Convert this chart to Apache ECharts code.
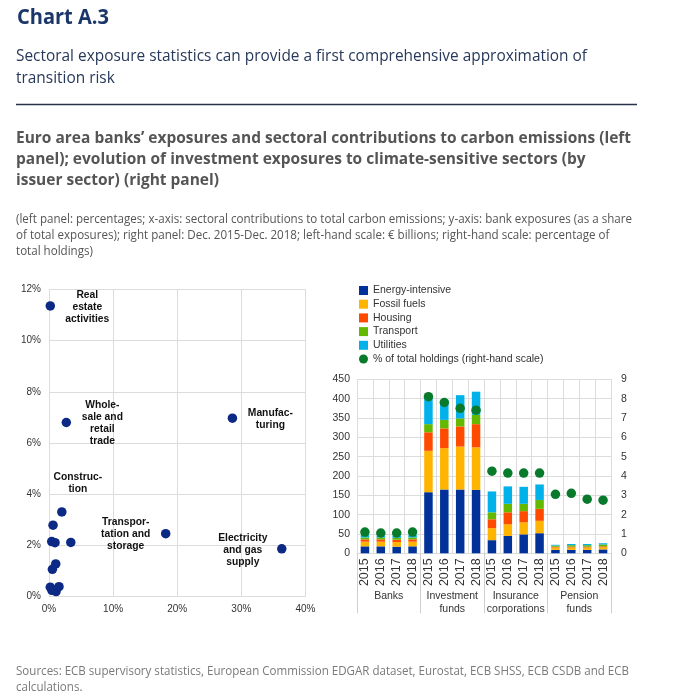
<!DOCTYPE html>
<html>
<head>
<meta charset="utf-8">
<script src="https://cdn.jsdelivr.net/npm/echarts@6/dist/echarts.min.js"></script>
<style>
html,body{margin:0;padding:0;background:#fff;}
#main{width:684px;height:699px;}
</style>
</head>
<body>
<div id="main"></div>
<script>
// ---------- Data ----------
const groups = ['Banks', 'Investment\nfunds', 'Insurance\ncorporations', 'Pension\nfunds'];
const years = ['2015', '2016', '2017', '2018'];
const energyIntensive = [18, 18, 17, 18, 158, 165, 165, 164, 34, 45, 49, 52, 9, 9, 9, 10];
const fossilFuels     = [12, 12, 12, 12, 107, 107, 111, 110, 31, 30, 31, 32, 6, 6, 6, 6];
const housing         = [6, 6, 6, 6, 48, 51, 52, 60, 23, 31, 29, 31, 2, 2, 2, 2];
const transport       = [5, 5, 5, 5, 21, 22, 21, 24, 18, 22, 19, 23, 3, 4, 4, 5];
const utilities       = [6, 5, 6, 6, 66, 50, 60, 60, 54, 45, 44, 40, 2, 3, 3, 3];
const shareOfHoldings = [1.1, 1.05, 1.05, 1.1, 8.1, 7.8, 7.5, 7.4, 4.25, 4.15, 4.15, 4.15, 3.05, 3.1, 2.8, 2.75];

// Left panel: x = contribution to carbon emissions (%), y = bank exposures (%)
const emissionsShare = [0.2, 2.7, 28.6, 2.0, 18.2, 36.3, 0.63, 0.42, 0.94, 3.4, 1.05, 0.53, 0.2, 0.73, 1.56, 1.1, 0.45];
const exposureShare  = [11.35, 6.8, 6.97, 3.31, 2.46, 1.87, 2.79, 2.15, 2.11, 2.12, 1.28, 1.07, 0.37, 0.26, 0.39, 0.2, 0.25];
const sectorLabels = ['Real\nestate\nactivities', 'Whole-\nsale and\nretail\ntrade', 'Manufac-\nturing', 'Construc-\ntion',
  'Transpor-\ntation and\nstorage', 'Electricity\nand gas\nsupply', '', '', '', '', '', '', '', '', '', '', ''];

// ---------- Layout helpers ----------
const labelOffsets = {0: [37, 1], 1: [36, 1], 2: [38, 1], 3: [16, -29], 4: [-40, 0], 5: [-39, 1]};
const categories = [];
groups.forEach(() => years.forEach(y => categories.push(y)));

const mctx = document.createElement('canvas').getContext('2d');
function measure(text, font) { mctx.font = font; return mctx.measureText(text).width; }

const graphics = [];
function textBlock(lines, font, size, fill, x, baselines, targetWidth) {
  const sx = targetWidth / measure(lines[0], font);
  lines.forEach((t, i) => {
    graphics.push({
      type: 'text', x: x, y: baselines[i] - 0.32 * size, scaleX: sx,
      style: {text: t, font: font, fill: fill, align: 'left', verticalAlign: 'middle'}
    });
  });
}
textBlock(['Chart A.3'], 'bold 21px "Open Sans"', 21, '#1b3668', 17, [25], 92);
textBlock(['Sectoral exposure statistics can provide a first comprehensive approximation of', 'transition risk'],
  '17px "Open Sans"', 17, '#27385a', 16, [62, 84], 571);
graphics.push({type: 'line', shape: {x1: 16, y1: 104.5, x2: 637, y2: 104.5}, style: {stroke: '#27324a', lineWidth: 1.5}});
textBlock(['Euro area banks’ exposures and sectoral contributions to carbon emissions (left',
  'panel); evolution of investment exposures to climate-sensitive sectors (by',
  'issuer sector) (right panel)'], 'bold 16.5px "Open Sans"', 16.5, '#555555', 16, [143.3, 164.5, 185.7], 615);
textBlock(['(left panel: percentages; x-axis: sectoral contributions to total carbon emissions; y-axis: bank exposures (as a share',
  'of total exposures); right panel: Dec. 2015-Dec. 2018; left-hand scale: € billions; right-hand scale: percentage of',
  'total holdings)'], '12.5px "Open Sans"', 12.5, '#555555', 16, [223.3, 239.5, 255.5], 616);
textBlock(['Sources: ECB supervisory statistics, European Commission EDGAR dataset, Eurostat, ECB SHSS, ECB CSDB and ECB',
  'calculations.'], '12.5px "Open Sans"', 12.5, '#7a7a7a', 16, [675.7, 691], 613);

// ---------- Chart ----------
const F = 'Liberation Sans';
const gridColor = '#dcdcdc';
const scatterData = emissionsShare.map((x, i) => {
  const item = {value: [x, exposureShare[i]]};
  if (sectorLabels[i]) {
    item.label = {show: true, formatter: sectorLabels[i], position: 'inside', offset: labelOffsets[i],
      align: 'center', verticalAlign: 'middle', fontFamily: F, fontWeight: 'bold', fontSize: 10.3,
      lineHeight: 12, color: '#111'};
  }
  return item;
});

const barColors = ['#003299', '#ffb400', '#ff4b00', '#65b800', '#00b1ea'];
const barNames = ['Energy-intensive', 'Fossil fuels', 'Housing', 'Transport', 'Utilities'];
const barData = [energyIntensive, fossilFuels, housing, transport, utilities];

const option = {
  animation: false,
  textStyle: {fontFamily: F},
  graphic: graphics,
  legend: {
    left: 354, top: 280, orient: 'vertical', itemWidth: 9, itemHeight: 9, itemGap: 2.7,
    textStyle: {fontFamily: F, fontSize: 10.5, color: '#333'},
    data: barNames.map(n => ({name: n, icon: 'rect'})).concat([{name: '% of total holdings (right-hand scale)', icon: 'circle'}])
  },
  grid: [
    {left: 49, top: 289.3, width: 256.5, height: 307.4},
    {left: 357, top: 379.3, width: 254, height: 174}
  ],
  xAxis: [
    {type: 'value', gridIndex: 0, min: 0, max: 40, interval: 10,
      axisLine: {show: false}, axisTick: {show: false},
      splitLine: {lineStyle: {color: gridColor}},
      axisLabel: {formatter: '{value}%', fontSize: 10, color: '#333', margin: 8}},
    {type: 'category', gridIndex: 1, data: categories, boundaryGap: true,
      axisLine: {lineStyle: {color: gridColor}}, axisTick: {show: false},
      splitLine: {show: true, interval: 0, lineStyle: {color: gridColor}},
      axisLabel: {rotate: 90, interval: 0, fontSize: 12.5, color: '#333', margin: 5}},
    {type: 'category', gridIndex: 1, data: groups, position: 'bottom', boundaryGap: true,
      axisLine: {show: false},
      axisTick: {show: true, interval: 0, length: 60, lineStyle: {color: '#cfcfcf'}},
      axisLabel: {interval: 0, fontSize: 10.5, color: '#333', margin: 37, lineHeight: 12.3}}
  ],
  yAxis: [
    {type: 'value', gridIndex: 0, min: 0, max: 12, interval: 2,
      axisLine: {show: false}, axisTick: {show: false},
      splitLine: {lineStyle: {color: gridColor}},
      axisLabel: {formatter: '{value}%', fontSize: 10, color: '#333', margin: 8}},
    {type: 'value', gridIndex: 1, min: 0, max: 450, interval: 50,
      axisLine: {show: false}, axisTick: {show: false},
      splitLine: {lineStyle: {color: gridColor}},
      axisLabel: {fontSize: 10.5, color: '#333', margin: 7}},
    {type: 'value', gridIndex: 1, position: 'right', min: 0, max: 9, interval: 1,
      axisLine: {show: true, lineStyle: {color: gridColor}}, axisTick: {show: false},
      splitLine: {show: false},
      axisLabel: {fontSize: 10.5, color: '#333', margin: 10}}
  ],
  series: [
    {type: 'scatter', xAxisIndex: 0, yAxisIndex: 0, symbolSize: 9.5,
      itemStyle: {color: '#0c2a85', opacity: 1}, data: scatterData}
  ].concat(barData.map((d, i) => ({
    type: 'bar', name: barNames[i], xAxisIndex: 1, yAxisIndex: 1, stack: 'total',
    barWidth: 8.5, itemStyle: {color: barColors[i]}, data: d
  }))).concat([
    {type: 'scatter', name: '% of total holdings (right-hand scale)', xAxisIndex: 1, yAxisIndex: 2,
      symbolSize: 9.5, z: 5, itemStyle: {color: '#087a2c', opacity: 1}, data: shareOfHoldings}
  ])
};

const chart = echarts.init(document.getElementById('main'), null, {renderer: 'canvas'});
chart.setOption(option);
</script>
</body>
</html>
